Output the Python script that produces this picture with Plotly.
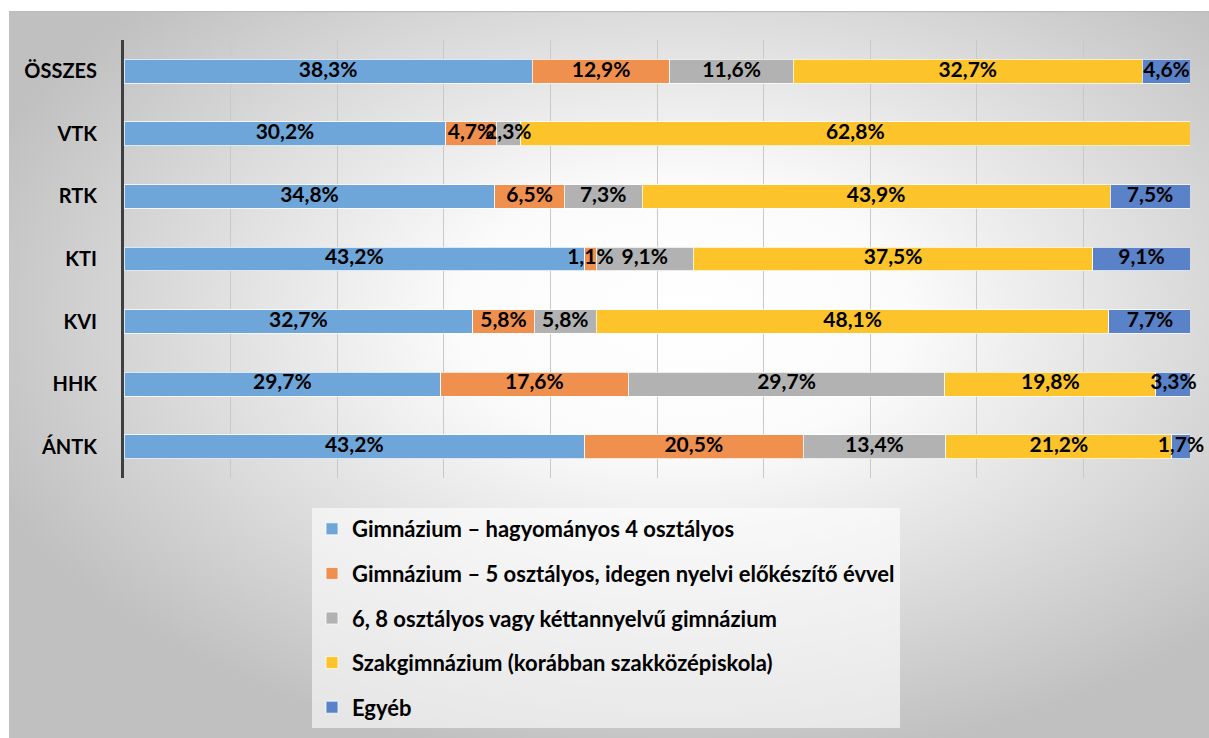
import base64
import plotly.graph_objects as go

categories = ["ÖSSZES", "VTK", "RTK", "KTI", "KVI", "HHK", "ÁNTK"]
series_names = [
    "Gimnázium – hagyományos 4 osztályos",
    "Gimnázium – 5 osztályos, idegen nyelvi előkészítő évvel",
    "6, 8 osztályos vagy kéttannyelvű gimnázium",
    "Szakgimnázium (korábban szakközépiskola)",
    "Egyéb",
]
gimn4 = [38.3, 30.2, 34.8, 43.2, 32.7, 29.7, 43.2]
gimn5 = [12.9, 4.7, 6.5, 1.1, 5.8, 17.6, 20.5]
gimn68 = [11.6, 2.3, 7.3, 9.1, 5.8, 29.7, 13.4]
szakg = [32.7, 62.8, 43.9, 37.5, 48.1, 19.8, 21.2]
egyeb = [4.6, 0.0, 7.5, 9.1, 7.7, 3.3, 1.7]
series_values = [gimn4, gimn5, gimn68, szakg, egyeb]
colors = ["#6FA6DA", "#F0904F", "#B2B2B2", "#FCC42A", "#5A82C8"]

W, H = 1209, 738
FONT = "Lato"

fig = go.Figure()
for i, (name, vals, col) in enumerate(zip(series_names, series_values, colors)):
    fig.add_trace(go.Bar(
        y=categories, x=vals, name=name, orientation="h",
        marker=dict(color=col, line=dict(color="rgba(255,255,255,0.75)", width=1)),
        textposition="none", legendgroup=f"g{i}", hoverinfo="skip",
    ))

# data labels drawn on top of all bars, centred on each segment
lab_x, lab_y, lab_t = [], [], []
for ci, cat in enumerate(categories):
    base = 0.0
    for vals in series_values:
        v = vals[ci]
        if v > 0:
            lab_x.append(base + v / 2)
            lab_y.append(cat)
            lab_t.append(f"{v:.1f}%".replace(".", ","))
        base += v
fig.add_trace(go.Scatter(
    x=lab_x, y=lab_y, text=lab_t, mode="text", showlegend=False,
    textfont=dict(family=FONT, size=21, color="black", weight="bold"),
    cliponaxis=False, hoverinfo="skip",
))

svg = (
    '<svg xmlns="http://www.w3.org/2000/svg" width="1200" height="727" viewBox="0 0 1200 727" preserveAspectRatio="none">'
    '<defs><radialGradient id="g" cx="0.56" cy="0.42" r="0.62" gradientUnits="objectBoundingBox">'
    '<stop offset="0" stop-color="#ffffff"/><stop offset="0.3" stop-color="#fbfbfb"/>'
    '<stop offset="1" stop-color="#c0c0c0"/></radialGradient></defs>'
    '<rect x="0" y="0" width="1200" height="727" fill="url(#g)"/>'
    '<line x1="0" y1="0.5" x2="1200" y2="0.5" stroke="#bdbdbd" stroke-width="1.5"/>'
    '</svg>'
)
src = "data:image/svg+xml;base64," + base64.b64encode(svg.encode()).decode()

fig.add_layout_image(dict(
    source=src, xref="paper", yref="paper", x=9 / W, y=1 - 11 / H,
    sizex=1 - 9 / W, sizey=1 - 11 / H, xanchor="left", yanchor="top",
    sizing="stretch", layer="below",
))

fig.update_layout(
    width=W, height=H, margin=dict(l=0, r=0, t=0, b=0),
    paper_bgcolor="white", plot_bgcolor="rgba(0,0,0,0)",
    barmode="stack", bargap=0.62,
    font=dict(family=FONT, size=20, color="black"),
    xaxis=dict(domain=[124 / W, 1190 / W], range=[0, 100], dtick=10,
               showgrid=True, gridcolor="#c9c9c9", gridwidth=1,
               showticklabels=False, zeroline=False, showline=False, fixedrange=True),
    yaxis=dict(domain=[1 - 478 / H, 1 - 40 / H], autorange="reversed",
               showline=True, linecolor="#3f3f3f", linewidth=3,
               showgrid=False, ticks="", ticklabelstandoff=20, fixedrange=True,
               tickfont=dict(family=FONT, size=20, color="black", weight="bold")),
    showlegend=True,
    legend=dict(x=312 / W, y=1 - 508 / H, xanchor="left", yanchor="top",
                orientation="v", traceorder="grouped", tracegroupgap=13,
                bgcolor="rgba(255,255,255,0.6)", itemwidth=30,
                font=dict(family=FONT, size=22, color="black", weight="bold")),
)

fig.write_html("out.html", config={"displayModeBar": False},
               post_script="document.body.style.margin='0';document.body.style.overflow='hidden';")
